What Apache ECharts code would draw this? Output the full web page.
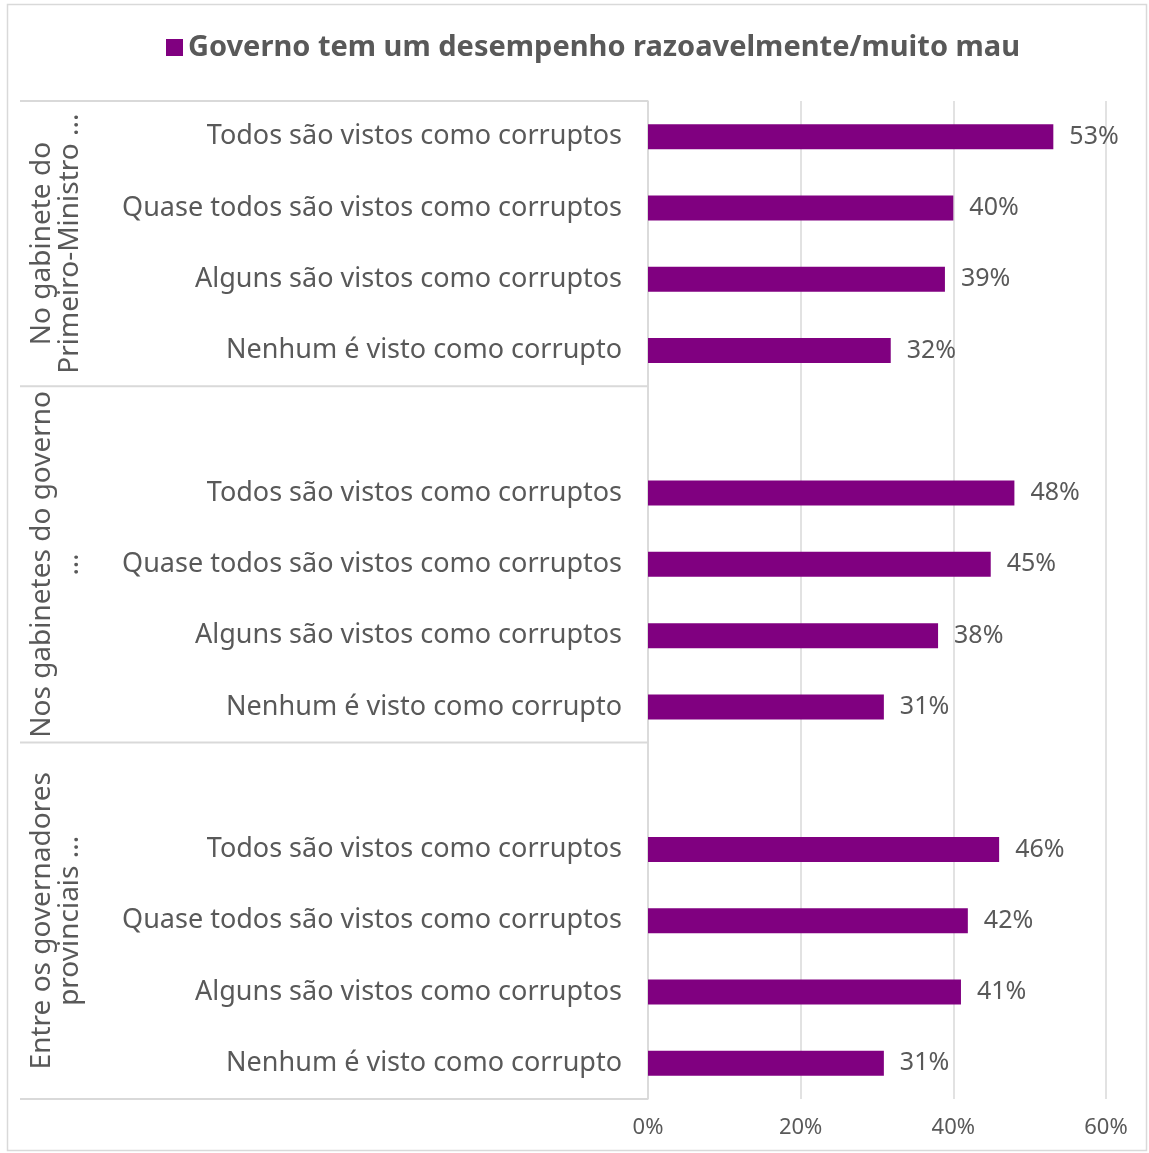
<!DOCTYPE html>
<html>
<head>
<meta charset="utf-8">
<script src="https://cdn.jsdelivr.net/npm/echarts@6/dist/echarts.min.js"></script>
<style>
    html, body { margin: 0; padding: 0; background: #fff; }
    #chart { width: 1149px; height: 1153px; }
</style>
</head>
<body>
<div id="chart"></div>
<script>
var seriesName = "Governo tem um desempenho razoavelmente/muito mau";
// 14 linhas, com linhas vazias entre os grupos
var categories = [
    "Todos são vistos como corruptos", "Quase todos são vistos como corruptos", "Alguns são vistos como corruptos", "Nenhum é visto como corrupto",
    "",
    "Todos são vistos como corruptos", "Quase todos são vistos como corruptos", "Alguns são vistos como corruptos", "Nenhum é visto como corrupto",
    "",
    "Todos são vistos como corruptos", "Quase todos são vistos como corruptos", "Alguns são vistos como corruptos", "Nenhum é visto como corrupto"
];
var values = [53.1, 40.0, 38.9, 31.8, null, 48.0, 44.9, 38.0, 30.9, null, 46.0, 41.9, 41.0, 30.9];
var groupNames = ["No gabinete do\nPrimeiro-Ministro ...", "Nos gabinetes do governo\n…", "Entre os governadores\nprovinciais ..."];
var groupStart = [0, 4, 9];
var groupEnd = [3, 8, 13];
var xMin = 0, xMax = 60, xStep = 20;

var grey = "#595959";
var lineGrey = "#d9d9d9";
var font = "Noto Sans";

var chart = echarts.init(document.getElementById("chart"));
var option = {
    animation: false,
    textStyle: { fontFamily: font },
    graphic: [{
        type: "rect",
        shape: { x: 7.5, y: 4.5, width: 1139, height: 1146 },
        style: { fill: "none", stroke: lineGrey, lineWidth: 1.5 },
        silent: true
    }],
    legend: {
        data: [seriesName],
        left: 161,
        top: 28,
        icon: "rect",
        itemWidth: 17,
        itemHeight: 17,
        itemGap: 8,
        textStyle: { color: grey, fontSize: 29, fontWeight: "bold", fontFamily: font }
    },
    grid: { left: 648, right: 43, top: 101, bottom: 54, outerBoundsMode: "none" },
    xAxis: {
        type: "value",
        min: xMin,
        max: xMax,
        interval: xStep,
        axisLine: { show: false },
        axisTick: { show: false },
        splitLine: { lineStyle: { color: lineGrey, width: 1.5 } },
        axisLabel: { formatter: "{value}%", color: grey, fontSize: 22, margin: 18 }
    },
    yAxis: {
        type: "category",
        inverse: true,
        data: categories,
        axisLine: { lineStyle: { color: lineGrey, width: 1.5 } },
        axisTick: { show: false },
        axisLabel: { color: grey, fontSize: 27, margin: 26, interval: 0 }
    },
    series: [{
        name: seriesName,
        type: "bar",
        data: values,
        barWidth: 25,
        itemStyle: { color: "#800080" },
        label: {
            show: true,
            position: "right",
            distance: 16,
            color: grey,
            fontSize: 25,
            formatter: function (p) { return Math.round(p.value) + "%"; }
        }
    }, {
        // rótulos dos grupos e linhas de separação
        type: "custom",
        clip: false,
        silent: true,
        data: groupStart.map(function (s) { return [0, s]; }),
        renderItem: function (params, api) {
            var i = params.dataIndex;
            var band = api.size([0, 1])[1];
            var y0 = api.coord([0, groupStart[i]])[1] - band / 2;
            var y1 = api.coord([0, groupEnd[i]])[1] + band / 2;
            var x1 = api.coord([0, 0])[0];
            var children = [{
                type: "line",
                shape: { x1: 20, y1: y0, x2: x1, y2: y0 },
                style: { stroke: lineGrey, lineWidth: 2 }
            }, {
                type: "text",
                x: 56,
                y: (y0 + y1) / 2,
                rotation: Math.PI / 2,
                style: {
                    text: groupNames[i],
                    align: "center",
                    verticalAlign: "middle",
                    fill: grey,
                    fontSize: 28,
                    fontFamily: font,
                    lineHeight: 28
                }
            }];
            if (i === groupNames.length - 1) {
                children.push({
                    type: "line",
                    shape: { x1: 20, y1: y1, x2: x1, y2: y1 },
                    style: { stroke: lineGrey, lineWidth: 2 }
                });
            }
            return { type: "group", children: children };
        }
    }]
};
chart.setOption(option);
</script>
</body>
</html>
